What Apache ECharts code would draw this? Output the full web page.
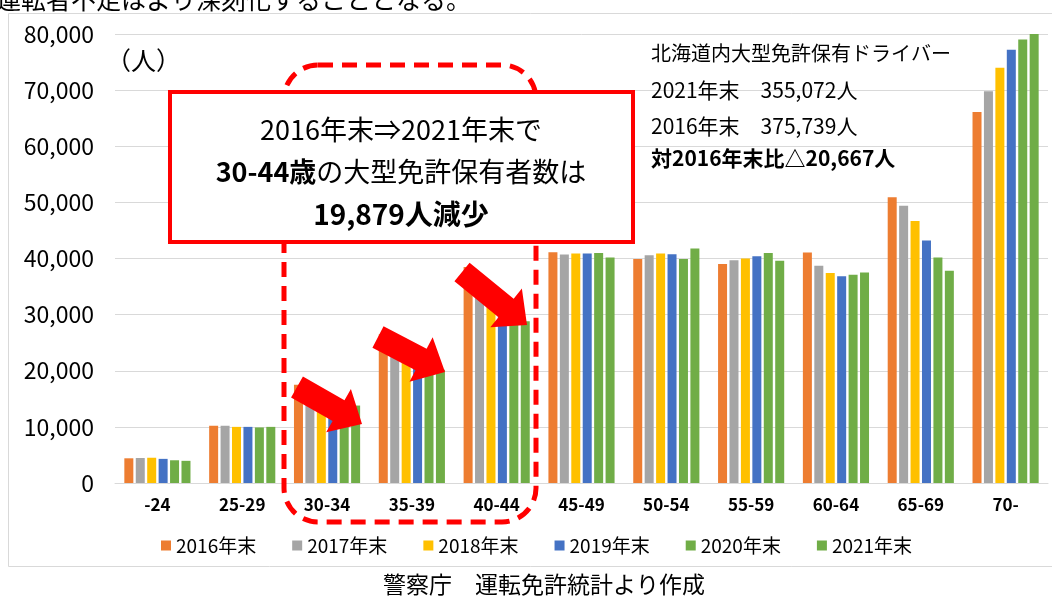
<!DOCTYPE html>
<html>
<head>
<meta charset="utf-8">
<script src="https://cdn.jsdelivr.net/npm/echarts@6/dist/echarts.min.js"></script>
<style>
  html, body { margin: 0; padding: 0; background: #fff; }
  #chart { width: 1052px; height: 597px; }
</style>
</head>
<body>
<div id="chart"></div>
<script>
// 年齢区分
var ageGroups = ['-24', '25-29', '30-34', '35-39', '40-44', '45-49', '50-54', '55-59', '60-64', '65-69', '70-'];
var seriesNames = ['2016年末', '2017年末', '2018年末', '2019年末', '2020年末', '2021年末'];

// 大型免許保有者数（人）
var y2016 = [4400, 10200, 17500, 26500, 38500, 41100, 39900, 39000, 41050, 50900, 66100];
var y2017 = [4450, 10200, 16600, 24600, 35600, 40700, 40600, 39700, 38700, 49400, 69800];
var y2018 = [4500, 10000, 15600, 23000, 33200, 40900, 40900, 40000, 37400, 46700, 74000];
var y2019 = [4300, 10000, 14700, 21700, 30500, 40900, 40750, 40400, 36850, 43200, 77200];
var y2020 = [4050, 9900, 14200, 20800, 28300, 41000, 39900, 41000, 37100, 40200, 79000];
var y2021 = [3950, 10000, 13800, 20200, 28800, 40200, 41800, 39600, 37500, 37800, 80100];

var colors = ['#ED7D31', '#A5A5A5', '#FFC000', '#4472C4', '#70AD47', '#70AD47'];
var allData = [y2016, y2017, y2018, y2019, y2020, y2021];

var FONT = '"Noto Sans CJK JP", "Noto Sans", sans-serif';

// 赤い矢印（尾の中心 → 先端）
function arrow(tx, ty, hx, hy) {
  var dx = hx - tx, dy = hy - ty;
  var len = Math.sqrt(dx * dx + dy * dy);
  var ux = dx / len, uy = dy / len;
  var px = -uy, py = ux;
  var sw = 12, hw = 25, hl = 27;
  var bx = hx - ux * hl, by = hy - uy * hl;
  return {
    type: 'polygon',
    z: 15,
    shape: {
      points: [
        [tx + px * sw, ty + py * sw],
        [bx + px * sw, by + py * sw],
        [bx + px * hw, by + py * hw],
        [hx, hy],
        [bx - px * hw, by - py * hw],
        [bx - px * sw, by - py * sw],
        [tx - px * sw, ty - py * sw]
      ]
    },
    style: { fill: '#FF0000' }
  };
}

var myChart = echarts.init(document.getElementById('chart'));

var series = seriesNames.map(function (name, i) {
  return {
    name: name,
    type: 'bar',
    data: allData[i],
    barWidth: 9,
    barGap: '27%',
    itemStyle: { color: colors[i] },
    z: 2
  };
});

var option = {
  backgroundColor: '#fff',
  animation: false,
  textStyle: { fontFamily: FONT },
  grid: { left: 115, right: 4, top: 34, bottom: 114, outerBoundsMode: 'none' },
  legend: {
    data: seriesNames,
    left: 156,
    top: 531,
    itemWidth: 10,
    itemHeight: 10,
    itemGap: 36,
    icon: 'rect',
    textStyle: { fontSize: 19, color: '#000', fontFamily: FONT }
  },
  xAxis: {
    type: 'category',
    data: ageGroups,
    axisLine: { lineStyle: { color: '#D9D9D9' } },
    axisTick: { show: false },
    axisLabel: { color: '#000', fontSize: 17, fontWeight: 'bold', margin: 13, fontFamily: FONT }
  },
  yAxis: {
    type: 'value',
    min: 0,
    max: 80000,
    interval: 10000,
    axisLine: { show: false },
    axisTick: { show: false },
    splitLine: { lineStyle: { color: '#D9D9D9' } },
    axisLabel: {
      color: '#000',
      fontSize: 23,
      margin: 21,
      fontFamily: FONT,
      formatter: function (v) { return v.toLocaleString('en-US'); }
    }
  },
  series: series,
  graphic: [
    {
      type: 'rect', z: 0, silent: true,
      shape: { x: 8.5, y: 13.5, width: 1100, height: 553 },
      style: { fill: 'none', stroke: '#D9D9D9', lineWidth: 1 }
    },
    {
      type: 'text', z: 5,
      style: { x: -4, y: 12, text: '運転者不足はより深刻化することとなる。', fontSize: 25, fontFamily: FONT, fill: '#000', textVerticalAlign: 'bottom' }
    },
    {
      type: 'text', z: 5,
      style: { x: 106, y: 60, text: '（人）', fontSize: 25, fontFamily: FONT, fill: '#000', textVerticalAlign: 'middle' }
    },
    {
      type: 'rect', z: 10,
      shape: { x: 284, y: 65, width: 252, height: 457, r: 34 },
      style: { fill: 'none', stroke: '#FF0000', lineWidth: 5, lineDash: [15, 9] }
    },
    arrow(297, 387, 362, 424),
    arrow(378, 337, 445, 372),
    arrow(462, 272, 527, 325),
    {
      type: 'rect', z: 20,
      shape: { x: 170, y: 92, width: 463, height: 150 },
      style: { fill: '#fff', stroke: '#FF0000', lineWidth: 4 }
    },
    {
      type: 'text', z: 21,
      style: { x: 401, y: 130, text: '2016年末⇒2021年末で', fontSize: 27, fontFamily: FONT, fill: '#000', textAlign: 'center', textVerticalAlign: 'middle' }
    },
    {
      type: 'text', z: 21,
      style: {
        x: 401, y: 172, textAlign: 'center', textVerticalAlign: 'middle',
        text: '{b|30-44歳}{n|の大型免許保有者数は}',
        rich: {
          b: { fontSize: 27, fontWeight: 'bold', fontFamily: FONT, fill: '#000' },
          n: { fontSize: 27, fontFamily: FONT, fill: '#000' }
        }
      }
    },
    {
      type: 'text', z: 21,
      style: { x: 401, y: 214, text: '19,879人減少', fontSize: 28, fontWeight: 'bold', fontFamily: FONT, fill: '#000', textAlign: 'center', textVerticalAlign: 'middle' }
    },
    {
      type: 'text', z: 21,
      style: { x: 651, y: 53, text: '北海道内大型免許保有ドライバー', fontSize: 20, fontFamily: FONT, fill: '#000', textVerticalAlign: 'middle' }
    },
    {
      type: 'text', z: 21,
      style: { x: 651, y: 90, text: '2021年末　355,072人', fontSize: 21, fontFamily: FONT, fill: '#000', textVerticalAlign: 'middle' }
    },
    {
      type: 'text', z: 21,
      style: { x: 651, y: 126, text: '2016年末　375,739人', fontSize: 21, fontFamily: FONT, fill: '#000', textVerticalAlign: 'middle' }
    },
    {
      type: 'text', z: 21,
      style: { x: 651, y: 158, text: '対2016年末比△20,667人', fontSize: 21, fontWeight: 'bold', fontFamily: FONT, fill: '#000', textVerticalAlign: 'middle' }
    },
    {
      type: 'text', z: 21,
      style: { x: 544, y: 584, text: '警察庁　運転免許統計より作成', fontSize: 23, fontFamily: FONT, fill: '#000', textAlign: 'center', textVerticalAlign: 'middle' }
    }
  ]
};

myChart.setOption(option);
</script>
</body>
</html>
